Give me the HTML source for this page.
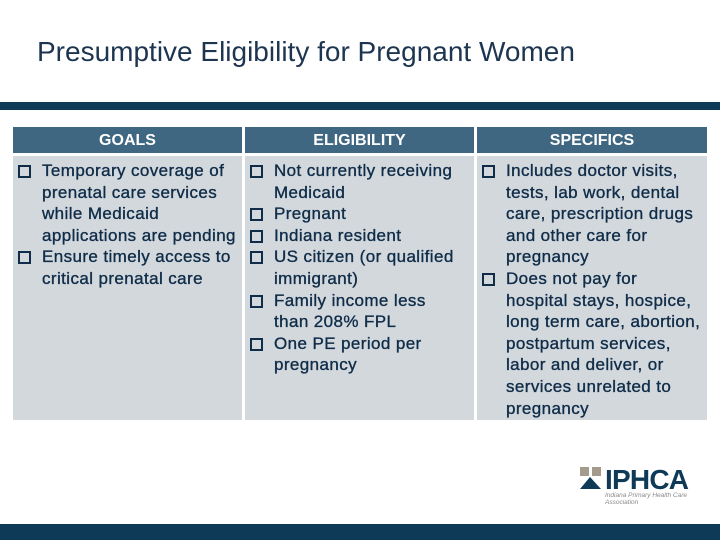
<!DOCTYPE html>
<html><head><meta charset="utf-8"><style>
body{margin:0;width:720px;height:540px;position:relative;background:#fff;font-family:"Liberation Sans",Arial,sans-serif;overflow:hidden}
.title{position:absolute;left:37px;top:36px;font-size:28px;color:#1d3550}
.topbar{position:absolute;left:0;top:102px;width:720px;height:8px;background:#0f3a57}
.botbar{position:absolute;left:0;top:524px;width:720px;height:16px;background:#0f3a57}
.hdr{position:absolute;top:127px;height:26px;background:#3f6782;color:#fff;font-weight:bold;font-size:16px;text-align:center;line-height:27px}
.cell{position:absolute;top:156px;height:264px;background:#d3d8dd;color:#0f2c48;font-size:17px;line-height:21.6px;letter-spacing:0.4px;white-space:nowrap;-webkit-text-stroke:0.35px #0f2c48}
ul{list-style:none;margin:0;padding:4px 0 0 0}
li{position:relative;padding-left:29px}
li:before{content:"";position:absolute;left:5px;top:5px;width:9px;height:9px;border:2px solid #0f2c48}
.logo{position:absolute;left:578px;top:463px}
</style></head><body>
<div class="title">Presumptive Eligibility for Pregnant Women</div>
<div class="topbar"></div>
<div class="hdr" style="left:13px;width:229px">GOALS</div>
<div class="hdr" style="left:245px;width:229px">ELIGIBILITY</div>
<div class="hdr" style="left:477px;width:230px">SPECIFICS</div>
<div class="cell" style="left:13px;width:229px"><ul>
<li>Temporary coverage of<br>prenatal care services<br>while Medicaid<br>applications are pending</li>
<li>Ensure timely access to<br>critical prenatal care</li></ul></div>
<div class="cell" style="left:245px;width:229px"><ul>
<li>Not currently receiving<br>Medicaid</li><li>Pregnant</li><li>Indiana resident</li>
<li>US citizen (or qualified<br>immigrant)</li><li>Family income less<br>than 208% FPL</li>
<li>One PE period per<br>pregnancy</li></ul></div>
<div class="cell" style="left:477px;width:230px"><ul>
<li>Includes doctor visits,<br>tests, lab work, dental<br>care, prescription drugs<br>and other care for<br>pregnancy</li>
<li>Does not pay for<br>hospital stays, hospice,<br>long term care, abortion,<br>postpartum services,<br>labor and deliver, or<br>services unrelated to<br>pregnancy</li></ul></div>
<div class="logo">
<svg width="130" height="45"><rect x="2" y="4" width="9" height="9" fill="#a59b8c"/><rect x="14" y="4" width="9" height="9" fill="#a59b8c"/><polygon points="2,26 12,14 23,26" fill="#0f3a57"/>
<text x="27" y="26" font-family="Liberation Sans" font-size="28" font-weight="bold" fill="#0f3a57" textLength="84">IPHCA</text>
<text x="27" y="34" font-family="Liberation Sans" font-size="6.5" font-style="italic" fill="#8a8a8a">Indiana Primary Health Care</text>
<text x="27" y="41" font-family="Liberation Sans" font-size="6.5" font-style="italic" fill="#8a8a8a">Association</text></svg></div>
<div class="botbar"></div>
</body></html>
